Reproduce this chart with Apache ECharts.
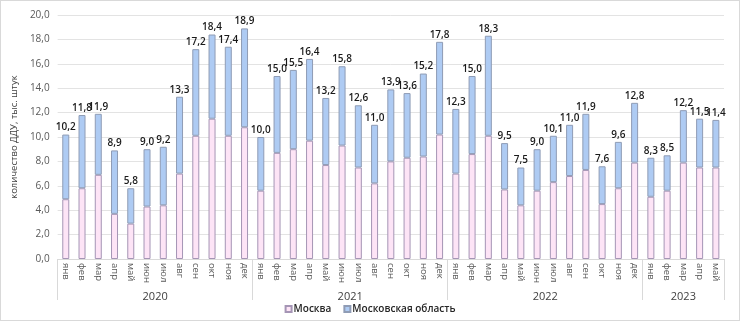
<!DOCTYPE html>
<html>
<head>
<meta charset="utf-8">
<script src="https://cdn.jsdelivr.net/npm/echarts@6/dist/echarts.min.js"></script>
<style>
html,body{margin:0;padding:0;background:#fff;}
#c{width:740px;height:321px;box-sizing:border-box;border:1px solid #d9d9d9;}
</style>
</head>
<body>
<div id="c"></div>
<script>
const months = ['янв','фев','мар','апр','май','июн','июл','авг','сен','окт','ноя','дек',
  'янв','фев','мар','апр','май','июн','июл','авг','сен','окт','ноя','дек',
  'янв','фев','мар','апр','май','июн','июл','авг','сен','окт','ноя','дек',
  'янв','фев','мар','апр','май'];
const years = ['2020','2021','2022','2023'];
const monthsPerYear = [12,12,12,5];
const moscow = [4.9,5.8,6.9,3.7,2.9,4.3,4.4,7.0,10.1,11.5,10.1,10.8,
  5.6,8.7,9.0,9.7,7.7,9.3,7.5,6.2,8.0,8.3,8.4,10.2,
  7.0,8.6,10.1,5.7,4.4,5.6,6.3,6.8,7.3,4.5,5.8,7.9,
  5.1,5.6,7.9,7.5,7.5];
const oblast = [5.3,6.0,5.0,5.2,2.9,4.7,4.8,6.3,7.1,6.9,7.3,8.1,
  4.4,6.3,6.5,6.7,5.5,6.5,5.1,4.8,5.9,5.3,6.8,7.6,
  5.3,6.4,8.2,3.8,3.1,3.4,3.8,4.2,4.6,3.1,3.8,4.9,
  3.2,2.9,4.3,4.0,3.9];
const yTicks = ['0,0','2,0','4,0','6,0','8,0','10,0','12,0','14,0','16,0','18,0','20,0'];

// year axis: half-month points, boundaryGap false
const nPts = months.length * 2 + 1;
const yearData = new Array(nPts).fill('');
const yearBounds = [0];
let acc = 0;
monthsPerYear.forEach((n, i) => {
  yearData[acc * 2 + n] = years[i];
  acc += n;
  yearBounds.push(acc * 2);
});

const fmt = v => v.toFixed(1).replace('.', ',');
const FONT = 'Open Sans';
const chart = echarts.init(document.getElementById('c'));
chart.setOption({
  animation: false,
  textStyle: {fontFamily: FONT},
  grid: {left: 48, right: 15, top: 14, bottom: 61},
  legend: {
    bottom: 1, left: 'center', itemWidth: 6, itemHeight: 6, itemGap: 12,
    icon: 'rect',
    textStyle: {fontSize: 10, fontWeight: 600, color: '#262626', fontFamily: FONT, padding: [0,0,0,-3]},
    data: ['Москва', 'Московская область']
  },
  xAxis: [{
    type: 'category', data: months, position: 'bottom',
    axisLine: {lineStyle: {color: '#d9d9d9'}},
    axisTick: {length: 23, lineStyle: {color: '#d9d9d9'}},
    axisLabel: {rotate: -90, fontSize: 9.5, color: '#595959', margin: 4, interval: 0}
  }, {
    type: 'category', data: yearData, boundaryGap: false, position: 'bottom',
    axisLine: {show: false},
    axisTick: {length: 41, lineStyle: {color: '#d9d9d9'},
      interval: (i) => yearBounds.indexOf(i) >= 0},
    axisLabel: {interval: 0, fontSize: 11, color: '#404040', margin: 32}
  }],
  yAxis: {
    type: 'value', min: 0, max: 20, interval: 2,
    name: 'количество ДДУ, тыс. штук', nameLocation: 'middle', nameGap: 37,
    nameTextStyle: {fontSize: 9.5, color: '#404040'},
    axisLine: {show: false}, axisTick: {show: false},
    axisLabel: {fontSize: 10, color: '#595959', margin: 8,
      formatter: (v) => yTicks[Math.round(v / 2)]},
    splitLine: {lineStyle: {color: '#e3e3e3'}}
  },
  series: [{
    name: 'Москва', type: 'bar', stack: 's', barWidth: 7, xAxisIndex: 0,
    data: moscow,
    itemStyle: {color: '#fde4f6', borderColor: '#a595b5', borderWidth: 1}
  }, {
    name: 'Московская область', type: 'bar', stack: 's', barWidth: 7, xAxisIndex: 0,
    data: oblast,
    itemStyle: {color: '#aecbf3', borderColor: '#8f9cb5', borderWidth: 1},
    label: {show: true, position: 'top', distance: 2, fontSize: 10, fontWeight: 600,
      color: '#1a1a1a', fontFamily: FONT,
      formatter: (p) => fmt(moscow[p.dataIndex] + oblast[p.dataIndex])}
  }]
});
</script>
</body>
</html>
